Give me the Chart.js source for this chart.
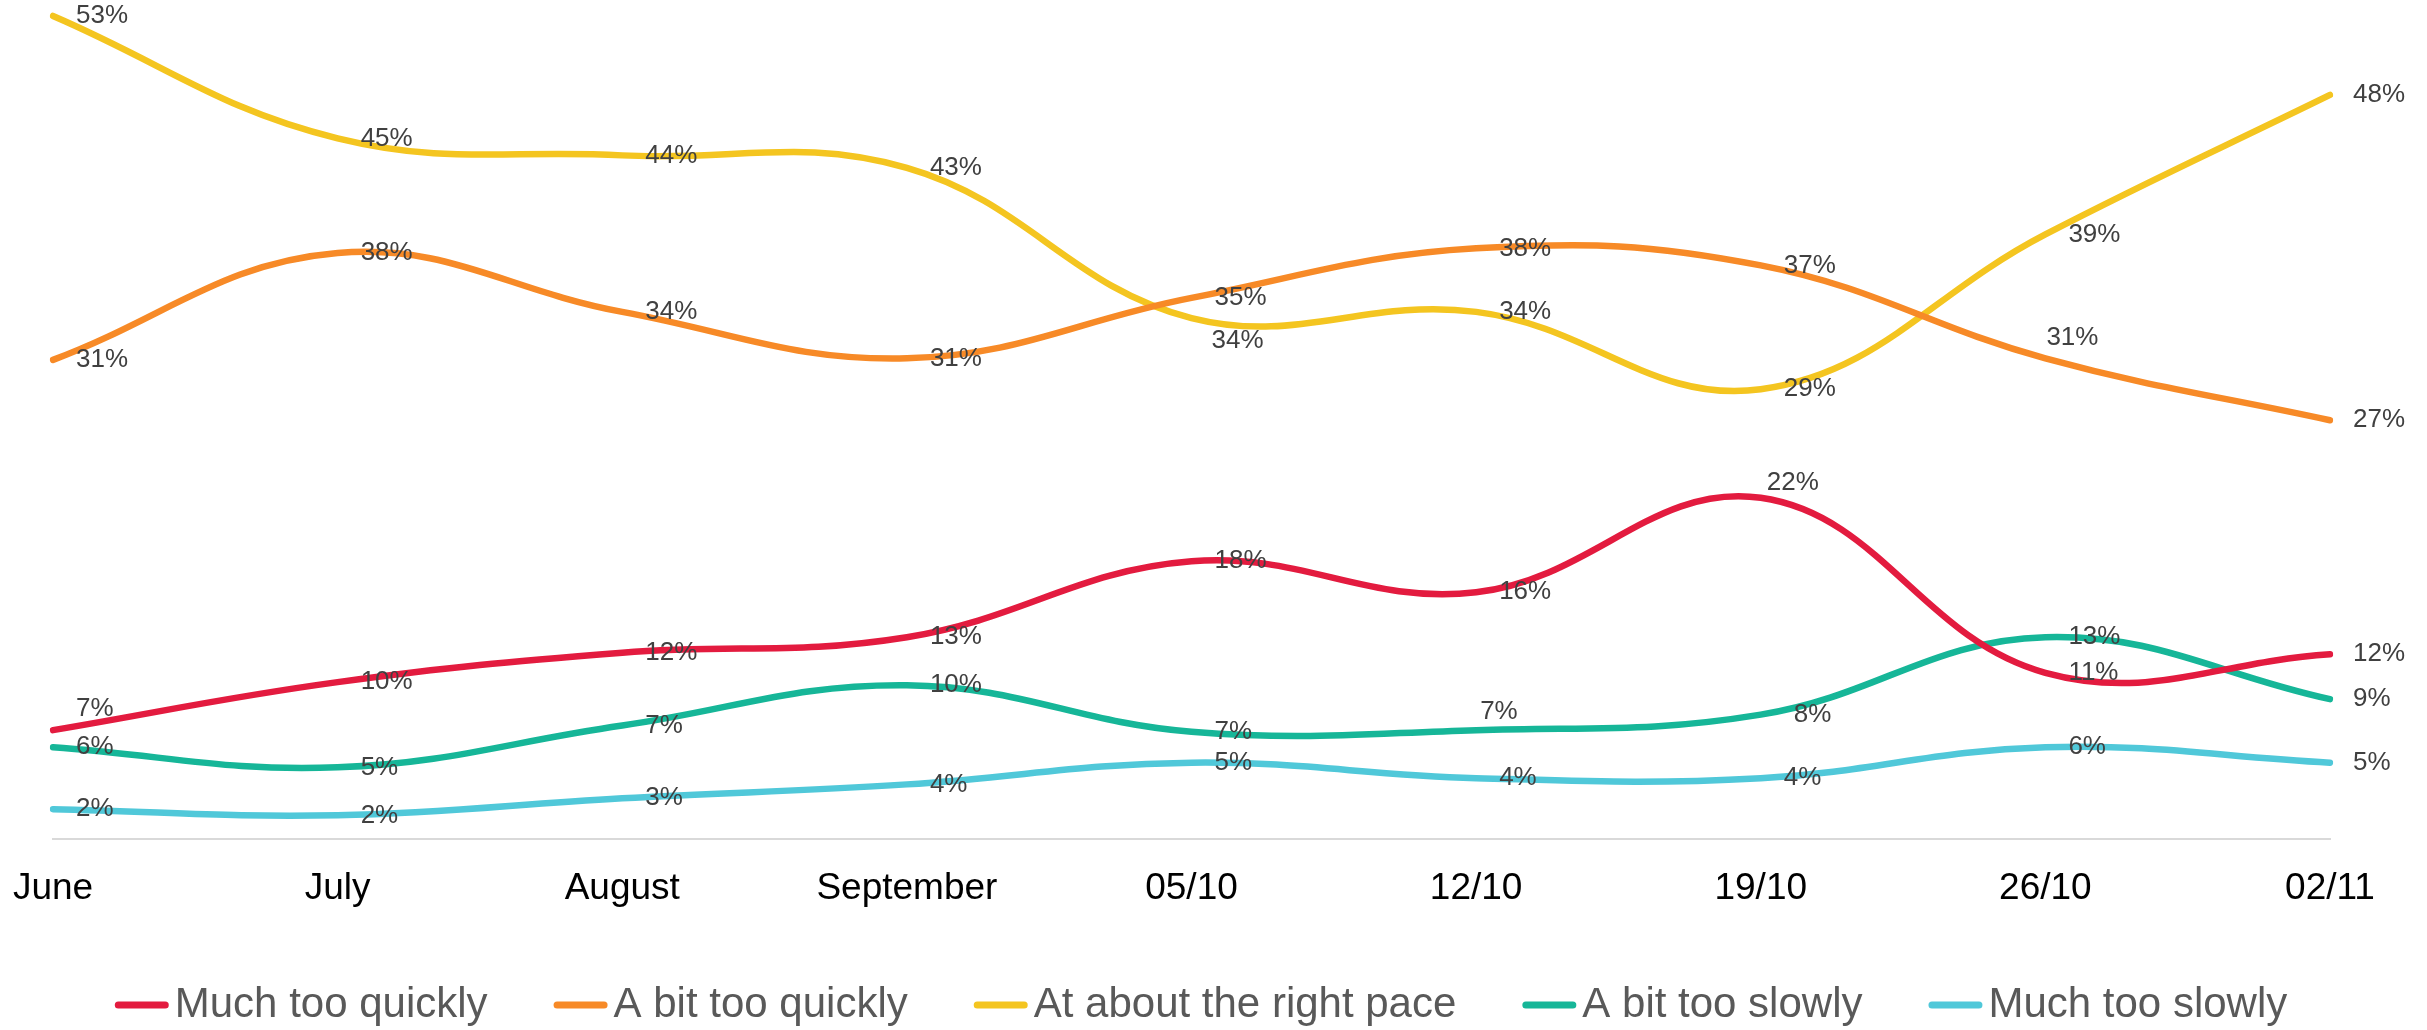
<!DOCTYPE html>
<html>
<head>
<meta charset="utf-8">
<script src="https://cdn.jsdelivr.net/npm/chart.js@4/dist/chart.umd.min.js"></script>
<style>
  html, body { margin: 0; padding: 0; background: #ffffff; }
  #wrap { width: 2427px; height: 1030px; }
</style>
</head>
<body>
<div id="wrap"><canvas id="paceChart" width="2427" height="1030"></canvas></div>
<script>
const periods = ['June', 'July', 'August', 'September', '05/10', '12/10', '19/10', '26/10', '02/11'];
const muchTooQuickly = [7, 10.1, 12, 13, 17.9, 15.9, 22, 10.7, 11.9];
const aBitTooQuickly = [30.9, 37.8, 34, 31, 34.9, 38.1, 37, 31, 27];
const rightPace = [53.1, 45.2, 44.1, 43.3, 33.6, 34, 29, 39, 48];
const aBitTooSlowly = [5.9, 4.6, 7.3, 9.9, 6.9, 7, 8, 13, 9];
const muchTooSlowly = [1.9, 1.5, 2.6, 3.5, 4.9, 3.9, 3.9, 5.9, 4.9];

const FONT = "'Liberation Sans', Arial, sans-serif";

// a few labels were moved by hand in the original, keyed "dataset:index" -> [dx, dy]
const labelNudge = {
  '0:0': [23, -21],
  '0:6': [6, -15],
  '1:7': [1, -21],
  '2:4': [20, 23],
  '3:5': [4, -18],
  '3:6': [33, 0]
};

const pointLabels = {
  id: 'pointLabels',
  afterDatasetsDraw(chart) {
    const ctx = chart.ctx;
    ctx.save();
    ctx.font = '26px ' + FONT;
    ctx.fillStyle = '#404040';
    ctx.textAlign = 'left';
    ctx.textBaseline = 'middle';
    chart.data.datasets.forEach((ds, di) => {
      const meta = chart.getDatasetMeta(di);
      meta.data.forEach((pt, i) => {
        const nudge = labelNudge[di + ':' + i] || [23, 0];
        ctx.fillText(Math.round(ds.data[i]) + '%', pt.x + nudge[0], pt.y + nudge[1]);
      });
    });
    ctx.restore();
  }
};

// excel-style legend: short thick line, text right next to it
const lineLegend = {
  id: 'lineLegend',
  afterDraw(chart) {
    const ctx = chart.ctx;
    const markW = 54, markGap = 6, itemGap = 66, y = 1005;
    ctx.save();
    ctx.font = '42px ' + FONT;
    const widths = chart.data.datasets.map(ds => ctx.measureText(ds.label).width);
    let total = 0;
    widths.forEach(w => { total += markW + markGap + w; });
    total += itemGap * (widths.length - 1);
    let x = 1201 - total / 2;
    chart.data.datasets.forEach((ds, i) => {
      ctx.strokeStyle = ds.borderColor;
      ctx.lineWidth = 7;
      ctx.lineCap = 'round';
      ctx.beginPath();
      ctx.moveTo(x + 3.5, y);
      ctx.lineTo(x + markW - 3.5, y);
      ctx.stroke();
      ctx.fillStyle = '#595959';
      ctx.textAlign = 'left';
      ctx.textBaseline = 'middle';
      ctx.fillText(ds.label, x + markW + markGap, y);
      x += markW + markGap + widths[i] + itemGap;
    });
    ctx.restore();
  }
};

function series(label, data, color) {
  return {
    label: label,
    data: data,
    borderColor: color,
    backgroundColor: color,
    borderWidth: 6.5,
    borderCapStyle: 'round',
    tension: 0.4,
    pointRadius: 0,
    pointHoverRadius: 0,
    fill: false
  };
}

const ctx = document.getElementById('paceChart').getContext('2d');
const paceChart = new Chart(ctx, {
  type: 'line',
  data: {
    labels: periods,
    datasets: [
      series('Much too quickly', muchTooQuickly, '#e31b3f'),
      series('A bit too quickly', aBitTooQuickly, '#f78a27'),
      series('At about the right pace', rightPace, '#f4c520'),
      series('A bit too slowly', aBitTooSlowly, '#16b698'),
      series('Much too slowly', muchTooSlowly, '#50c8d9')
    ]
  },
  options: {
    responsive: false,
    animation: false,
    maintainAspectRatio: false,
    layout: { padding: { left: 53, right: 97, top: 2, bottom: 99 } },
    plugins: {
      tooltip: { enabled: false },
      legend: { display: false }
    },
    scales: {
      x: {
        grid: { display: false },
        border: { display: true, color: '#d9d9d9', width: 2 },
        ticks: {
          color: '#000000',
          font: { family: FONT, size: 37 },
          padding: 20,
          maxRotation: 0,
          autoSkip: false
        },
        // first label may hang out past the plot edge, like in excel
        afterFit(scale) {
          scale.paddingLeft = 0;
          scale.paddingRight = 0;
        }
      },
      y: {
        display: false,
        min: 0,
        max: 54
      }
    }
  },
  plugins: [pointLabels, lineLegend]
});
</script>
</body>
</html>
